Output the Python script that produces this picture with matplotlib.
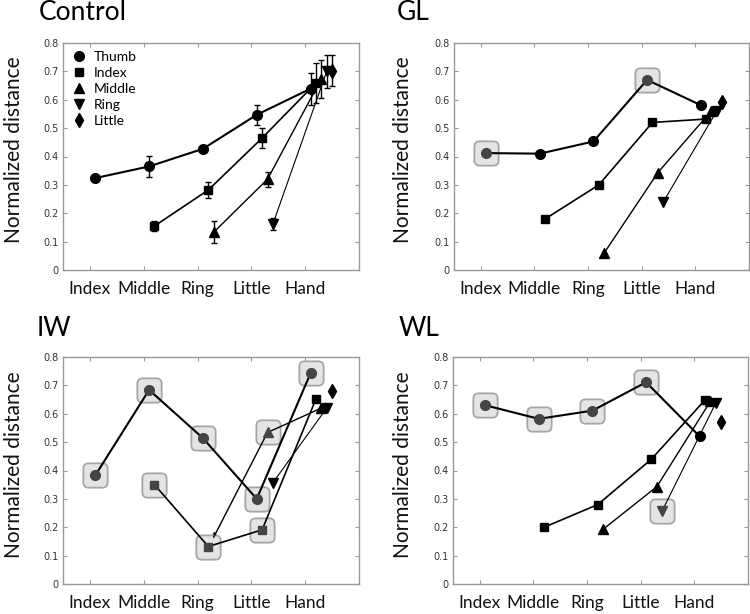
import numpy as np
import matplotlib
matplotlib.use("Agg")
import matplotlib.pyplot as plt
import matplotlib.patches as mpatches
from matplotlib.lines import Line2D

nan = np.nan

# 数据
categories = ["Index", "Middle", "Ring", "Little", "Hand"]
series_names = ["Thumb", "Index", "Middle", "Ring", "Little"]

control_thumb = [0.324, 0.365, 0.427, 0.547, 0.639]
control_index = [nan, 0.155, 0.282, 0.465, 0.659]
control_middle = [nan, nan, 0.133, 0.320, 0.674]
control_ring = [nan, nan, nan, 0.162, 0.700]
control_little = [nan, nan, nan, nan, 0.702]

control_thumb_err = [0.0, 0.037, 0.010, 0.036, 0.056]
control_index_err = [nan, 0.016, 0.027, 0.036, 0.072]
control_middle_err = [nan, nan, 0.038, 0.027, 0.067]
control_ring_err = [nan, nan, nan, 0.022, 0.059]
control_little_err = [nan, nan, nan, nan, 0.054]

gl_thumb = [0.412, 0.410, 0.453, 0.670, 0.581]
gl_index = [nan, 0.180, 0.300, 0.520, 0.532]
gl_middle = [nan, nan, 0.060, 0.343, 0.561]
gl_ring = [nan, nan, nan, 0.239, 0.561]
gl_little = [nan, nan, nan, nan, 0.593]

iw_thumb = [0.383, 0.684, 0.514, 0.300, 0.743]
iw_index = [nan, 0.350, 0.132, 0.191, 0.652]
iw_middle = [nan, nan, 0.165, 0.534, 0.620]
iw_ring = [nan, nan, nan, 0.357, 0.620]
iw_little = [nan, nan, nan, nan, 0.680]

wl_thumb = [0.630, 0.582, 0.611, 0.711, 0.520]
wl_index = [nan, 0.200, 0.280, 0.440, 0.649]
wl_middle = [nan, nan, 0.193, 0.343, 0.644]
wl_ring = [nan, nan, nan, 0.258, 0.638]
wl_little = [nan, nan, nan, nan, 0.570]

# 需要高亮的点: (series 序号, category 序号)
gl_highlight = [(0, 0), (0, 3)]
iw_highlight = [(0, 0), (0, 1), (0, 2), (0, 3), (0, 4), (1, 1), (1, 2), (1, 3), (2, 3)]
wl_highlight = [(0, 0), (0, 1), (0, 2), (0, 3), (3, 3)]

# 样式
markers = ["o", "s", "^", "v", "d"]
msizes = [7.0, 6.0, 7.0, 7.0, 7.5]
lwidths = [1.5, 1.2, 1.0, 0.8, 0.8]
big_font = ["Lato", "DejaVu Sans"]
box_path = mpatches.BoxStyle.Round(pad=0, rounding_size=0.22)(-0.5, -0.5, 1, 1, 1.0)

fig = plt.figure(figsize=(7.5, 6.14), dpi=100)
W, H = 750.0, 614.0


def make_axes(left, top, width=296, height=227):
    return fig.add_axes([left / W, 1 - (top + height) / H, width / W, height / H])


def draw_panel(ax, data, errs=None, highlight=()):
    x0 = np.arange(1, len(categories) + 1)
    for i, ys in enumerate(data):
        ys = np.array(ys, dtype=float)
        xs = x0 + 0.1 * (i + 1)
        ax.plot(xs, ys, "-", color="k", lw=lwidths[i], zorder=3)
        if errs is not None:
            ax.errorbar(xs, ys, yerr=np.array(errs[i], dtype=float), fmt="none",
                        ecolor="k", elinewidth=1.0, capsize=2.5, capthick=1.0, zorder=2)
        hl = [c for (s, c) in highlight if s == i]
        normal = [c for c in range(len(categories)) if c not in hl]
        ax.plot(xs[normal], ys[normal], linestyle="none", marker=markers[i],
                ms=msizes[i], color="k", zorder=2)
        for c in hl:
            ax.plot(xs[c], ys[c], linestyle="none", marker=box_path, ms=17.5,
                    mfc="#e4e4e4", mec="#a6a6a6", mew=1.3, zorder=2.5)
            ax.plot(xs[c], ys[c], linestyle="none", marker=markers[i],
                    ms=msizes[i], color="#444444", zorder=4)

    ax.set_xlim(0.5, 6.0)
    ax.set_ylim(0, 0.8)
    ax.set_xticks(x0)
    ax.set_xticklabels(categories, fontsize=12.5, family=big_font, color="#111111")
    ax.set_yticks(np.arange(0, 0.81, 0.1))
    ax.set_yticklabels(["0"] + ["%.1f" % v for v in np.arange(0.1, 0.81, 0.1)],
                       fontsize=7, color="#333333")
    ax.tick_params(axis="both", direction="in", length=3, width=0.8, color="#999999",
                   top=True, right=True)
    ax.tick_params(axis="x", pad=8)
    ax.tick_params(axis="y", pad=3)
    for sp in ax.spines.values():
        sp.set_color("#999999")
        sp.set_linewidth(1.0)


ax1 = make_axes(63, 43)
draw_panel(ax1, [control_thumb, control_index, control_middle, control_ring, control_little],
           errs=[control_thumb_err, control_index_err, control_middle_err,
                 control_ring_err, control_little_err])
handles = [Line2D([], [], linestyle="none", marker=markers[i], ms=msizes[i], color="k")
           for i in range(len(series_names))]
ax1.legend(handles, series_names, loc="upper left", frameon=False,
           prop={"family": big_font, "size": 10}, handletextpad=0.45, labelspacing=0.3,
           borderaxespad=0.15, handlelength=1.2)

ax2 = make_axes(454, 43, width=295)
draw_panel(ax2, [gl_thumb, gl_index, gl_middle, gl_ring, gl_little], highlight=gl_highlight)

ax3 = make_axes(63, 357)
draw_panel(ax3, [iw_thumb, iw_index, iw_middle, iw_ring, iw_little], highlight=iw_highlight)

ax4 = make_axes(453, 357, width=295)
draw_panel(ax4, [wl_thumb, wl_index, wl_middle, wl_ring, wl_little], highlight=wl_highlight)

# 标题和 y 轴标签
titles = ["Control", "GL", "IW", "WL"]
title_pos = [(39, 13), (397, 13), (37, 329), (399, 329)]
for t, (tx, ty) in zip(titles, title_pos):
    fig.text(tx / W, 1 - ty / H, t, fontsize=19, family=big_font, ha="left", va="center")

ylabel_pos = [(14, 150), (403, 150), (14, 465), (403, 465)]
for (lx, ly) in ylabel_pos:
    fig.text(lx / W, 1 - ly / H, "Normalized distance", fontsize=15, family=big_font,
             rotation=90, ha="center", va="center", color="#111111")

fig.savefig("out.png", dpi=100)
